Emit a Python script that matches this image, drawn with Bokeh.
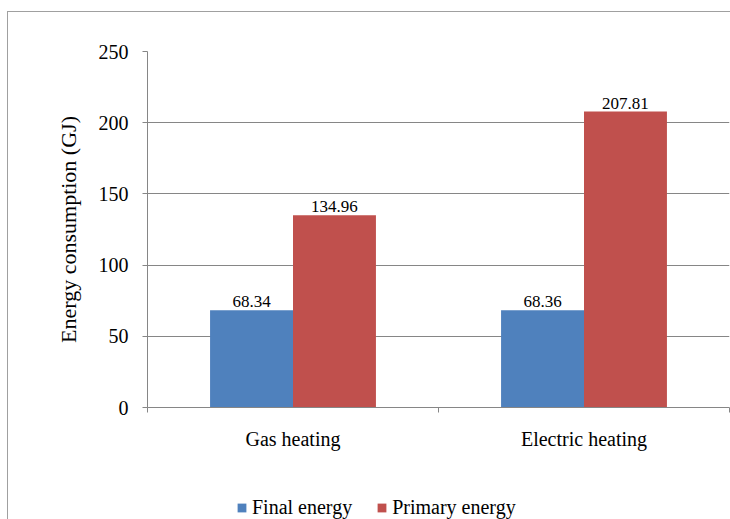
from bokeh.plotting import figure
from bokeh.layouts import column
from bokeh.models import ColumnDataSource, Range1d, FixedTicker, LabelSet, Legend
from bokeh.transform import dodge
from bokeh.embed import file_html
from bokeh.resources import INLINE

# Data
categories = ["Gas heating", "Electric heating"]
final_energy = [68.34, 68.36]
primary_energy = [134.96, 207.81]
y_ticks = [0, 50, 100, 150, 200, 250]

FONT = "Liberation Serif"
BLUE = "#4F81BD"
RED = "#C0504D"
AXIS_GRAY = "#868686"
TEXT = "#000000"

centers = [i + 0.5 for i in range(len(categories))]
source = ColumnDataSource(dict(
    x=centers,
    final=final_energy,
    primary=primary_energy,
    final_txt=[f"{v:.2f}" for v in final_energy],
    primary_txt=[f"{v:.2f}" for v in primary_energy],
))

p = figure(width=722, height=458, output_backend="svg", toolbar_location=None,
           x_range=Range1d(0, len(categories)), y_range=Range1d(0, 250),
           min_border_left=139, min_border_right=1, min_border_top=39,
           min_border_bottom=63)
p.outline_line_color = None

bw = 0.285
r1 = p.vbar(x=dodge("x", -bw / 2, range=p.x_range), top="final", width=bw,
            source=source, color=BLUE, line_color=None)
r2 = p.vbar(x=dodge("x", bw / 2, range=p.x_range), top="primary", width=bw,
            source=source, color=RED, line_color=None)

# value labels above bars
for col, txt, off in (("final", "final_txt", -bw / 2), ("primary", "primary_txt", bw / 2)):
    p.add_layout(LabelSet(x=dodge("x", off, range=p.x_range), y=col, text=txt,
                          source=source, text_align="center", text_baseline="bottom",
                          y_offset=3, text_font=FONT, text_font_size="17px",
                          text_color=TEXT))

# y axis
p.yaxis.ticker = FixedTicker(ticks=y_ticks)
p.yaxis.axis_label = "Energy consumption (GJ)"
p.yaxis.axis_label_text_font = FONT
p.yaxis.axis_label_text_font_size = "22px"
p.yaxis.axis_label_text_font_style = "normal"
p.yaxis.axis_label_text_color = TEXT
p.yaxis.axis_label_standoff = 15
p.yaxis.major_label_text_font = FONT
p.yaxis.major_label_text_font_size = "20px"
p.yaxis.major_label_text_color = TEXT
p.yaxis.major_label_standoff = 14
p.yaxis.axis_line_color = AXIS_GRAY
p.yaxis.major_tick_line_color = AXIS_GRAY
p.yaxis.major_tick_out = 5
p.yaxis.major_tick_in = 0
p.yaxis.minor_tick_line_color = None

# x axis: labels at category centres, ticks at category boundaries
p.xaxis.ticker = FixedTicker(ticks=centers, minor_ticks=list(range(len(categories) + 1)))
p.xaxis.major_label_overrides = {c: name for c, name in zip(centers, categories)}
p.xaxis.major_label_text_font = FONT
p.xaxis.major_label_text_font_size = "20px"
p.xaxis.major_label_text_color = TEXT
p.xaxis.major_label_standoff = 14
p.xaxis.major_tick_line_color = None
p.xaxis.minor_tick_line_color = AXIS_GRAY
p.xaxis.minor_tick_out = 5
p.xaxis.minor_tick_in = 0
p.xaxis.axis_line_color = AXIS_GRAY

p.xgrid.grid_line_color = None
p.ygrid.grid_line_color = AXIS_GRAY
p.ygrid.ticker = FixedTicker(ticks=y_ticks[1:])

# legend strip under the chart; its series renderers have zero width so only
# the legend keys are visible
lg = figure(width=722, height=49, output_backend="svg", toolbar_location=None,
            x_axis_type=None, y_axis_type=None, min_border=0,
            x_range=p.x_range, y_range=Range1d(-2, -1))
lg.outline_line_color = None
lg.xgrid.grid_line_color = None
lg.ygrid.grid_line_color = None
k1 = lg.vbar(x="x", top="final", width=0, source=source, color=BLUE, line_color=None)
k2 = lg.vbar(x="x", top="primary", width=0, source=source, color=RED, line_color=None)
legend = Legend(items=[("Final energy", [k1]), ("Primary energy", [k2])],
                orientation="horizontal", location=(89, 0),
                glyph_width=11, glyph_height=11, label_standoff=5, spacing=24,
                padding=0, margin=0, border_line_color=None,
                background_fill_alpha=0,
                label_text_font=FONT, label_text_font_size="20px",
                label_text_color=TEXT, label_height=20)
lg.add_layout(legend, "center")

# chart area border (left and top edges fall inside the window)
layout = column(p, lg, spacing=0,
                styles={"margin-left": "7px", "margin-top": "11px",
                        "border-left": "1px solid #A0A0A0",
                        "border-top": "1px solid #A0A0A0"})

open("out.html", "w").write(file_html(layout, INLINE))
